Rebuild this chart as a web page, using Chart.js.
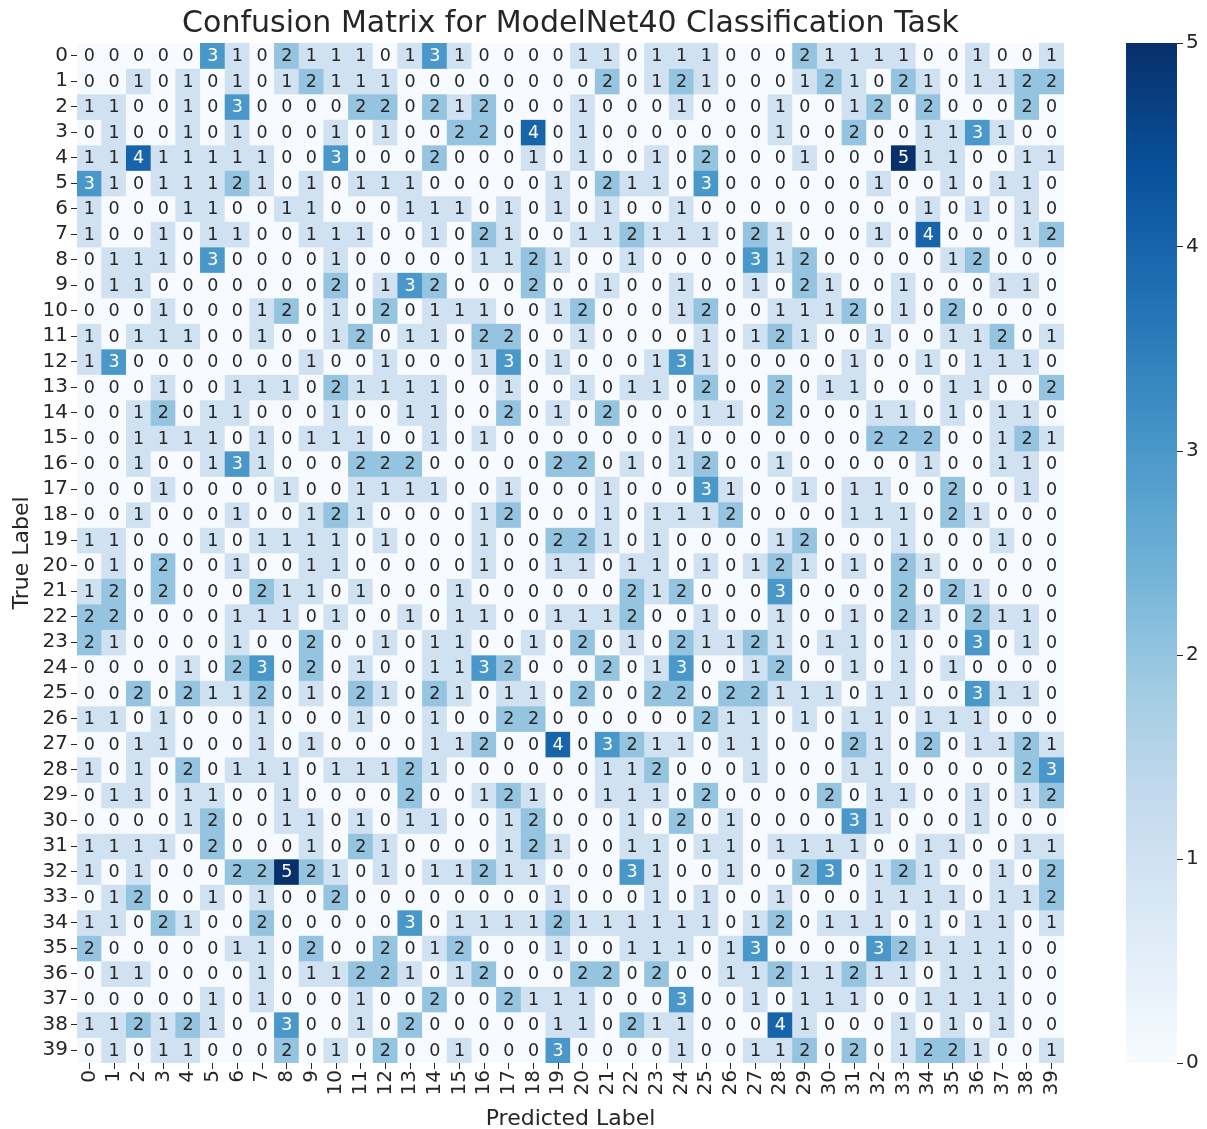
<!DOCTYPE html>
<html>
<head>
<meta charset="utf-8">
<title>Confusion Matrix for ModelNet40 Classification Task</title>
<script src="https://cdn.jsdelivr.net/npm/chart.js@4.4.0/dist/chart.umd.min.js"></script>
<style>
  html, body { margin: 0; padding: 0; background: #fff; }
  #wrap { position: relative; width: 1207px; height: 1129px; }
  #matrix { position: absolute; left: 0; top: 0; }
  #colorbar { position: absolute; left: 1100px; top: 0; }
</style>
</head>
<body>
<div id="wrap">
  <canvas id="matrix" width="1207" height="1129"></canvas>
  <canvas id="colorbar" width="107" height="1129"></canvas>
</div>
<script>
// tick labels
const predictedLabels = ['0','1','2','3','4','5','6','7','8','9','10','11','12','13','14','15','16','17','18','19',
  '20','21','22','23','24','25','26','27','28','29','30','31','32','33','34','35','36','37','38','39'];
const trueLabels = ['0','1','2','3','4','5','6','7','8','9','10','11','12','13','14','15','16','17','18','19',
  '20','21','22','23','24','25','26','27','28','29','30','31','32','33','34','35','36','37','38','39'];
const colorbarTicks = [0, 1, 2, 3, 4, 5];

// confusion counts, one row per true label (columns = predicted label)
const confusion = [
  [0,0,0,0,0,3,1,0,2,1,1,1,0,1,3,1,0,0,0,0, 1,1,0,1,1,1,0,0,0,2,1,1,1,1,0,0,1,0,0,1],
  [0,0,1,0,1,0,1,0,1,2,1,1,1,0,0,0,0,0,0,0, 0,2,0,1,2,1,0,0,0,1,2,1,0,2,1,0,1,1,2,2],
  [1,1,0,0,1,0,3,0,0,0,0,2,2,0,2,1,2,0,0,0, 1,0,0,0,1,0,0,0,1,0,0,1,2,0,2,0,0,0,2,0],
  [0,1,0,0,1,0,1,0,0,0,1,0,1,0,0,2,2,0,4,0, 1,0,0,0,0,0,0,0,1,0,0,2,0,0,1,1,3,1,0,0],
  [1,1,4,1,1,1,1,1,0,0,3,0,0,0,2,0,0,0,1,0, 1,0,0,1,0,2,0,0,0,1,0,0,0,5,1,1,0,0,1,1],
  [3,1,0,1,1,1,2,1,0,1,0,1,1,1,0,0,0,0,0,1, 0,2,1,1,0,3,0,0,0,0,0,0,1,0,0,1,0,1,1,0],
  [1,0,0,0,1,1,0,0,1,1,0,0,0,1,1,1,0,1,0,1, 0,1,0,0,1,0,0,0,0,0,0,0,0,0,1,0,1,0,1,0],
  [1,0,0,1,0,1,1,0,0,1,1,1,0,0,1,0,2,1,0,0, 1,1,2,1,1,1,0,2,1,0,0,0,1,0,4,0,0,0,1,2],
  [0,1,1,1,0,3,0,0,0,0,1,0,0,0,0,0,1,1,2,1, 0,0,1,0,0,0,0,3,1,2,0,0,0,0,0,1,2,0,0,0],
  [0,1,1,0,0,0,0,0,0,0,2,0,1,3,2,0,0,0,2,0, 0,1,0,0,1,0,0,1,0,2,1,0,0,1,0,0,0,1,1,0],
  [0,0,0,1,0,0,0,1,2,0,1,0,2,0,1,1,1,0,0,1, 2,0,0,0,1,2,0,0,1,1,1,2,0,1,0,2,0,0,0,0],
  [1,0,1,1,1,0,0,1,0,0,1,2,0,1,1,0,2,2,0,0, 1,0,0,0,0,1,0,1,2,1,0,0,1,0,0,1,1,2,0,1],
  [1,3,0,0,0,0,0,0,0,1,0,0,1,0,0,0,1,3,0,1, 0,0,0,1,3,1,0,0,0,0,0,1,0,0,1,0,1,1,1,0],
  [0,0,0,1,0,0,1,1,1,0,2,1,1,1,1,0,0,1,0,0, 1,0,1,1,0,2,0,0,2,0,1,1,0,0,0,1,1,0,0,2],
  [0,0,1,2,0,1,1,0,0,0,1,0,0,1,1,0,0,2,0,1, 0,2,0,0,0,1,1,0,2,0,0,0,1,1,0,1,0,1,1,0],
  [0,0,1,1,1,1,0,1,0,1,1,1,0,0,1,0,1,0,0,0, 0,0,0,0,1,0,0,0,0,0,0,0,2,2,2,0,0,1,2,1],
  [0,0,1,0,0,1,3,1,0,0,0,2,2,2,0,0,0,0,0,2, 2,0,1,0,1,2,0,0,1,0,0,0,0,0,1,0,0,1,1,0],
  [0,0,0,1,0,0,0,0,1,0,0,1,1,1,1,0,0,1,0,0, 0,1,0,0,0,3,1,0,0,1,0,1,1,0,0,2,0,0,1,0],
  [0,0,1,0,0,0,1,0,0,1,2,1,0,0,0,0,1,2,0,0, 0,1,0,1,1,1,2,0,0,0,0,1,1,1,0,2,1,0,0,0],
  [1,1,0,0,0,1,0,1,1,1,1,0,1,0,0,0,1,0,0,2, 2,1,0,1,0,0,0,0,1,2,0,0,0,1,0,0,0,1,0,0],
  [0,1,0,2,0,0,1,0,0,1,1,0,0,0,0,0,1,0,0,1, 1,0,1,1,0,1,0,1,2,1,0,1,0,2,1,0,0,0,0,0],
  [1,2,0,2,0,0,0,2,1,1,0,1,0,0,0,1,0,0,0,0, 0,0,2,1,2,0,0,0,3,0,0,0,0,2,0,2,1,0,0,0],
  [2,2,0,0,0,0,1,1,1,0,1,0,0,1,0,1,1,0,0,1, 1,1,2,0,0,1,0,0,1,0,0,1,0,2,1,0,2,1,1,0],
  [2,1,0,0,0,0,1,0,0,2,0,0,1,0,1,1,0,0,1,0, 2,0,1,0,2,1,1,2,1,0,1,1,0,1,0,0,3,0,1,0],
  [0,0,0,0,1,0,2,3,0,2,0,1,0,0,1,1,3,2,0,0, 0,2,0,1,3,0,0,1,2,0,0,1,0,1,0,1,0,0,0,0],
  [0,0,2,0,2,1,1,2,0,1,0,2,1,0,2,1,0,1,1,0, 2,0,0,2,2,0,2,2,1,1,1,0,1,1,0,0,3,1,1,0],
  [1,1,0,1,0,0,0,1,0,0,0,1,0,0,1,0,0,2,2,0, 0,0,0,0,0,2,1,1,0,1,0,1,1,0,1,1,1,0,0,0],
  [0,0,1,1,0,0,0,1,0,1,0,0,0,0,1,1,2,0,0,4, 0,3,2,1,1,0,1,1,0,0,0,2,1,0,2,0,1,1,2,1],
  [1,0,1,0,2,0,1,1,1,0,1,1,1,2,1,0,0,0,0,0, 0,1,1,2,0,0,0,1,0,0,0,1,1,0,0,0,0,0,2,3],
  [0,1,1,0,1,1,0,0,1,0,0,0,0,2,0,0,1,2,1,0, 0,1,1,1,0,2,0,0,0,0,2,0,1,1,0,0,1,0,1,2],
  [0,0,0,0,1,2,0,0,1,1,0,1,0,1,1,0,0,1,2,0, 0,0,1,0,2,0,1,0,0,0,0,3,1,0,0,0,1,0,0,0],
  [1,1,1,1,0,2,0,0,0,1,0,2,1,0,0,0,0,1,2,1, 0,0,1,1,0,1,1,0,1,1,1,1,0,0,1,1,0,0,1,1],
  [1,0,1,0,0,0,2,2,5,2,1,0,1,0,1,1,2,1,1,0, 0,0,3,1,0,0,1,0,0,2,3,0,1,2,1,0,0,1,0,2],
  [0,1,2,0,0,1,0,1,0,0,2,0,0,0,0,0,0,0,0,1, 0,0,0,1,0,1,0,0,1,0,0,0,1,1,1,1,0,1,1,2],
  [1,1,0,2,1,0,0,2,0,0,0,0,0,3,0,1,1,1,1,2, 1,1,1,1,1,1,0,1,2,0,1,1,1,0,1,0,1,1,0,1],
  [2,0,0,0,0,0,1,1,0,2,0,0,2,0,1,2,0,0,0,1, 0,0,1,1,1,0,1,3,0,0,0,0,3,2,1,1,1,1,0,0],
  [0,1,1,0,0,0,0,1,0,1,1,2,2,1,0,1,2,0,0,0, 2,2,0,2,0,0,1,1,2,1,1,2,1,1,0,1,1,1,0,0],
  [0,0,0,0,0,1,0,1,0,0,0,1,0,0,2,0,0,2,1,1, 1,0,0,0,3,0,0,1,0,1,1,1,0,0,1,1,1,1,0,0],
  [1,1,2,1,2,1,0,0,3,0,0,1,0,2,0,0,0,0,0,1, 1,0,2,1,1,0,0,0,4,1,0,0,0,1,0,1,0,1,0,0],
  [0,1,0,1,1,0,0,0,2,0,1,0,2,0,0,1,0,0,0,3, 0,0,0,0,1,0,0,1,1,2,0,2,0,1,2,2,1,0,0,1]
];

const vmin = 0;
const vmax = 5;
const ink = '#262626';

Chart.defaults.font.family = '"DejaVu Sans", sans-serif';
Chart.defaults.color = ink;

// matplotlib "Blues"
const BLUES = ['#f7fbff', '#deebf7', '#c6dbef', '#9ecae1', '#6baed6', '#4292c6', '#2171b5', '#08519c', '#08306b'];

function hexToRgb(h) {
  return [parseInt(h.slice(1, 3), 16), parseInt(h.slice(3, 5), 16), parseInt(h.slice(5, 7), 16)];
}

function blues(v) {
  const t = Math.min(Math.max((v - vmin) / (vmax - vmin), 0), 1) * (BLUES.length - 1);
  const k = Math.min(Math.floor(t), BLUES.length - 2);
  const f = t - k;
  const a = hexToRgb(BLUES[k]);
  const b = hexToRgb(BLUES[k + 1]);
  const c = a.map((x, n) => Math.round(x + (b[n] - x) * f));
  return `rgb(${c[0]},${c[1]},${c[2]})`;
}

// write the count in the middle of each cell
const cellText = {
  id: 'cellText',
  afterDatasetsDraw(chart) {
    const ctx = chart.ctx;
    ctx.save();
    ctx.font = '17.5px "DejaVu Sans", sans-serif';
    ctx.textAlign = 'center';
    ctx.textBaseline = 'middle';
    chart.data.datasets.forEach((ds, i) => {
      chart.getDatasetMeta(i).data.forEach((bar, j) => {
        const v = ds.counts[j];
        const p = bar.getCenterPoint();
        ctx.fillStyle = v >= 3 ? '#ffffff' : ink;
        ctx.fillText(String(v), p.x, p.y + 1);
      });
    });
    ctx.restore();
  }
};

// every true label is a stacked row of unit-high bars, coloured by its counts
const datasets = confusion.map((row, i) => ({
  label: trueLabels[i],
  data: row.map(() => 1),
  counts: row,
  backgroundColor: row.map(v => blues(v)),
  borderWidth: 0,
  categoryPercentage: 1,
  barPercentage: 1
}));

new Chart(document.getElementById('matrix'), {
  type: 'bar',
  data: { labels: predictedLabels, datasets: datasets },
  options: {
    responsive: false,
    animation: false,
    layout: { padding: { left: 0, right: 143, top: 0, bottom: 0 } },
    plugins: {
      legend: { display: false },
      tooltip: { enabled: false },
      title: {
        display: true,
        fullSize: false,
        text: 'Confusion Matrix for ModelNet40 Classification Task',
        color: ink,
        font: { size: 30, weight: 'normal' },
        padding: { top: 6.5, bottom: 0.5 }
      }
    },
    scales: {
      x: {
        stacked: true,
        afterFit: s => { s.height = 66; },
        ticks: { autoSkip: false, minRotation: 90, maxRotation: 90, padding: 1, font: { size: 20 }, color: ink },
        grid: { offset: false, drawOnChartArea: false, tickLength: 6, color: ink },
        border: { display: false },
        title: { display: true, text: 'Predicted Label', font: { size: 22 }, color: ink, padding: { top: 0, bottom: -3 } }
      },
      y: {
        type: 'linear',
        stacked: true,
        reverse: true,
        min: 0,
        max: 40,
        afterBuildTicks: s => { s.ticks = trueLabels.map((_, i) => ({ value: i + 0.5 })); },
        afterFit: s => { s.width = 77; },
        ticks: { autoSkip: false, callback: (v, i) => trueLabels[i], padding: 3, font: { size: 20 }, color: ink },
        grid: { drawOnChartArea: false, tickLength: 6, color: ink },
        border: { display: false },
        title: { display: true, text: 'True Label', font: { size: 22 }, color: ink, padding: { top: 9, bottom: 0 } }
      }
    }
  },
  plugins: [cellText]
});

// colour bar
function colorbarFill(chart) {
  const area = chart.chartArea;
  if (!area) return BLUES[4];
  const g = chart.ctx.createLinearGradient(0, area.bottom, 0, area.top);
  BLUES.forEach((c, k) => g.addColorStop(k / (BLUES.length - 1), c));
  return g;
}

new Chart(document.getElementById('colorbar'), {
  type: 'bar',
  data: {
    labels: [''],
    datasets: [{
      data: [[vmin, vmax]],
      backgroundColor: ctx => colorbarFill(ctx.chart),
      borderWidth: 0,
      categoryPercentage: 1,
      barPercentage: 1
    }]
  },
  options: {
    responsive: false,
    animation: false,
    layout: { padding: { left: 26, right: 0, top: 43, bottom: 66 } },
    plugins: { legend: { display: false }, tooltip: { enabled: false } },
    scales: {
      x: { display: false },
      y: {
        position: 'right',
        min: vmin,
        max: vmax,
        afterBuildTicks: s => { s.ticks = colorbarTicks.map(v => ({ value: v })); },
        afterFit: s => { s.width = 30; },
        ticks: { padding: 3, font: { size: 20 }, color: ink },
        grid: { drawOnChartArea: false, tickLength: 6, color: ink },
        border: { display: false }
      }
    }
  }
});
</script>
</body>
</html>
